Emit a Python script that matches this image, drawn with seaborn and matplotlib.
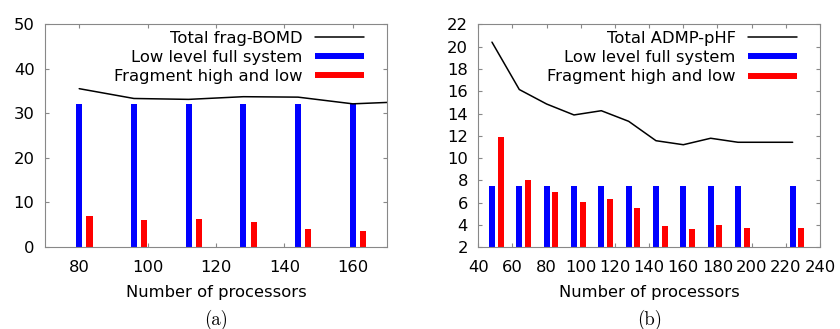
import numpy as np
import pandas as pd
import matplotlib
matplotlib.use("Agg")
import matplotlib.pyplot as plt
import seaborn as sns
from matplotlib.lines import Line2D

# ---- data ----
procs_a = [80, 96, 112, 128, 144, 160]
low_a = [32.0, 32.0, 32.0, 32.0, 32.0, 32.0]
frag_a = [6.9, 6.05, 6.35, 5.5, 3.95, 3.6]
total_procs_a = [80, 96, 112, 128, 144, 160, 176]
total_a = [35.5, 33.3, 33.1, 33.7, 33.6, 32.1, 32.6]

procs_b = [48, 64, 80, 96, 112, 128, 144, 160, 176, 192, 224]
low_b = [7.5] * 11
frag_b = [11.85, 8.05, 6.93, 6.06, 6.3, 5.5, 3.94, 3.61, 4.03, 3.76, 3.7]
total_b = [20.4, 16.15, 14.85, 13.87, 14.25, 13.3, 11.56, 11.2, 11.78, 11.42, 11.42]

labels_a = ["Total frag-BOMD", "Low level full system", "Fragment high and low"]
labels_b = ["Total ADMP-pHF", "Low level full system", "Fragment high and low"]
xticks_a = [80, 100, 120, 140, 160]
yticks_a = [0, 10, 20, 30, 40, 50]
xticks_b = list(range(40, 241, 20))
yticks_b = list(range(2, 23, 2))

sns.set_style("ticks")
plt.rcParams["font.family"] = ["DejaVu Sans"]
plt.rcParams["text.color"] = "black"
plt.rcParams["axes.labelcolor"] = "black"
FS = 11.8

BLUE = "#0000ff"
RED = "#ff0000"
FRAME = "#888888"

fig = plt.figure(figsize=(8.4, 3.29), dpi=100)
W, H = 840, 329
ax_a = fig.add_axes([45 / W, (H - 247) / H, 342 / W, 223 / H])
ax_b = fig.add_axes([478.3 / W, (H - 247.3) / H, 341.7 / W, 223 / H])


def panel(ax, procs, low, frag, tprocs, total, bw, off, labels, xlim, ylim,
          xticks, yticks, tag, axw):
    sns.barplot(x=procs, y=low, native_scale=True, width=bw, color=BLUE,
                saturation=1, errorbar=None, linewidth=0, ax=ax)
    sns.barplot(x=np.array(procs) + off, y=frag, native_scale=True, width=bw,
                color=RED, saturation=1, errorbar=None, linewidth=0, ax=ax)
    sns.lineplot(x=tprocs, y=total, color="black", lw=1.1, ax=ax)
    ax.set_xlim(*xlim)
    ax.set_ylim(*ylim)
    ax.set_xticks(xticks)
    ax.set_yticks(yticks)
    ax.tick_params(direction="in", length=3, width=0.8, color=FRAME,
                   labelcolor="black", top=True, right=True, labelsize=FS,
                   pad=7.5)
    ax.tick_params(axis="x", pad=9.5)
    for s in ax.spines.values():
        s.set_color(FRAME)
        s.set_linewidth(0.8)
        s.set_visible(True)
    ax.set_xlabel("Number of processors", fontsize=FS, labelpad=7,
                  color="black")
    ax.set_ylabel("")
    handles = [Line2D([], [], color="black", lw=1.1),
               Line2D([], [], color=BLUE, lw=4.3, solid_capstyle="butt"),
               Line2D([], [], color=RED, lw=4.3, solid_capstyle="butt")]
    ax.legend(handles, labels, loc="upper right", markerfirst=False,
              frameon=False, fontsize=FS, handlelength=3.0, handletextpad=0.73,
              labelspacing=0.26, borderpad=0, borderaxespad=0,
              labelcolor="black",
              bbox_to_anchor=(1 - 23 / axw, 1 - 6.5 / 223))
    ax.text(0.5, -0.325, tag, transform=ax.transAxes, ha="center", va="center",
            fontsize=13.5, color="black", family=["cmr10", "DejaVu Serif"])


panel(ax_a, procs_a, low_a, frag_a, total_procs_a, total_a, 1.8 / 16, 3,
      labels_a, (70, 170), (0, 50), xticks_a, yticks_a, "(a)", 342)
panel(ax_b, procs_b, low_b, frag_b, procs_b, total_b, 3.5 / 16, 5,
      labels_b, (40, 240), (2, 22), xticks_b, yticks_b, "(b)", 341.7)

fig.savefig("out.png", dpi=100)
